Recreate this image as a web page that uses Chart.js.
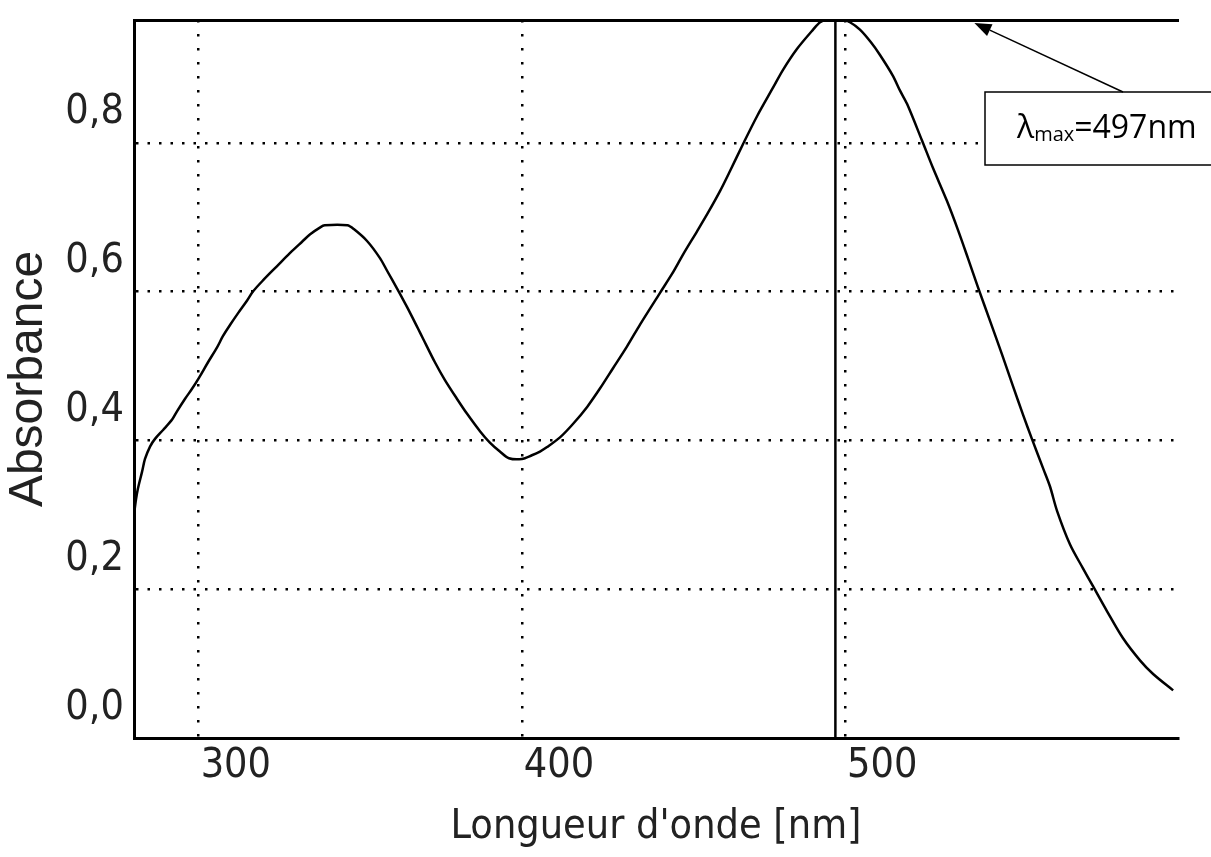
<!DOCTYPE html>
<html>
<head>
<meta charset="utf-8">
<title>Spectre d'absorption</title>
<script src="https://cdn.jsdelivr.net/npm/chart.js@4.4.1/dist/chart.umd.min.js"></script>
<style>
  html, body { margin: 0; padding: 0; background: #fff; }
  canvas { display: block; }
</style>
</head>
<body>
<canvas id="spectre" width="1211" height="857"></canvas>
<script>
// Absorption spectrum (wavelength in nm, absorbance)
const wavelengths = [
  280.0, 280.6, 281.2, 282.5, 283.4, 285.0, 286.5, 289.0, 291.8, 293.3,
  295.8, 297.9, 300.1, 302.9, 305.7, 307.5, 309.7, 312.2, 315.0, 316.8,
  319.9, 324.2, 328.3, 332.0, 334.5, 337.5, 339.0, 346.0, 348.0, 352.1,
  356.1, 358.3, 361.4, 364.5, 367.9, 369.4, 373.1, 376.2, 379.9, 383.0,
  387.1, 390.1, 393.2, 396.0, 400.0, 403.1, 405.6, 407.8, 411.8, 415.8,
  420.2, 424.2, 428.2, 432.5, 436.6, 442.7, 446.5, 449.9, 454.2, 457.6,
  461.3, 464.4, 468.4, 472.8, 477.7, 480.8, 485.1, 490.1, 492.3, 497.0,
  501.5, 504.6, 508.0, 510.8, 514.8, 517.0, 519.2, 523.8, 527.2, 531.5,
  535.0, 538.0, 541.1, 544.9, 548.6, 551.7, 555.1, 557.8, 561.3, 563.4,
  565.6, 569.6, 573.6, 576.7, 581.1, 586.0, 591.3, 595.3, 601.5
];
const absorbance = [
  0.300, 0.320, 0.335, 0.358, 0.375, 0.392, 0.402, 0.414, 0.428, 0.439,
  0.456, 0.469, 0.484, 0.505, 0.525, 0.540, 0.555, 0.571, 0.588, 0.600,
  0.615, 0.634, 0.652, 0.667, 0.677, 0.686, 0.689, 0.689, 0.684, 0.668,
  0.645, 0.628, 0.604, 0.579, 0.550, 0.537, 0.505, 0.481, 0.456, 0.436,
  0.412, 0.397, 0.385, 0.376, 0.375, 0.380, 0.385, 0.391, 0.404, 0.422,
  0.445, 0.470, 0.497, 0.526, 0.556, 0.598, 0.624, 0.650, 0.681, 0.706,
  0.735, 0.762, 0.798, 0.836, 0.874, 0.898, 0.926, 0.952, 0.962, 0.970,
  0.962, 0.952, 0.935, 0.918, 0.890, 0.870, 0.852, 0.803, 0.766, 0.722,
  0.682, 0.645, 0.606, 0.560, 0.515, 0.476, 0.434, 0.402, 0.362, 0.338,
  0.305, 0.260, 0.228, 0.204, 0.170, 0.134, 0.104, 0.086, 0.064
];
const lambdaMax = 497;

const xRange = [280, 603];
const yRange = [0, 0.965];
const xTicks = [300, 400, 500];
const yTicks = [0, 0.2, 0.4, 0.6, 0.8];

const spectrum = wavelengths.map((w, i) => ({ x: w, y: absorbance[i] }));
const maxLine = [{ x: lambdaMax, y: yRange[0] }, { x: lambdaMax, y: yRange[1] }];

const axisFont = "'Liberation Sans Narrow', 'DejaVu Sans Condensed', 'Liberation Sans', sans-serif";
const inkColor = '#222';

// Boxed label with an arrow pointing at the top of the peak
const calloutPlugin = {
  id: 'callout',
  afterDraw(chart, args, opts) {
    const { ctx } = chart;
    const tipX = chart.scales.x.getPixelForValue(opts.tip[0]);
    const tipY = chart.scales.y.getPixelForValue(opts.tip[1]) + 3;
    const b = opts.box;
    ctx.save();
    ctx.strokeStyle = '#000';
    ctx.fillStyle = '#fff';
    ctx.lineWidth = 1.5;
    ctx.fillRect(b.left, b.top, chart.width - b.left + 5, b.height);
    ctx.strokeRect(b.left, b.top, chart.width - b.left + 5, b.height);

    // arrow shaft and head
    const tailX = opts.tail, tailY = b.top;
    const ang = Math.atan2(tipY - tailY, tipX - tailX);
    const head = 17, half = 6.5;
    const bx = tipX - head * Math.cos(ang), by = tipY - head * Math.sin(ang);
    ctx.beginPath();
    ctx.moveTo(tailX, tailY);
    ctx.lineTo(bx, by);
    ctx.stroke();
    ctx.fillStyle = '#000';
    ctx.beginPath();
    ctx.moveTo(tipX, tipY);
    ctx.lineTo(bx + half * Math.sin(ang), by - half * Math.cos(ang));
    ctx.lineTo(bx - half * Math.sin(ang), by + half * Math.cos(ang));
    ctx.closePath();
    ctx.fill();

    // λ with "max" subscript
    const base = b.top + 46;
    let x = b.left + 32;
    ctx.textBaseline = 'alphabetic';
    ctx.textAlign = 'left';
    ctx.font = "32px 'Open Sans', sans-serif";
    ctx.fillText('λ', x, base);
    x += ctx.measureText('λ').width;
    ctx.font = "20px 'Open Sans', sans-serif";
    ctx.fillText('max', x, base + 3);
    x += ctx.measureText('max').width;
    ctx.font = "32px 'Open Sans', sans-serif";
    ctx.fillText('=' + lambdaMax + 'nm', x, base);
    ctx.restore();
  }
};

new Chart(document.getElementById('spectre').getContext('2d'), {
  type: 'line',
  data: {
    datasets: [
      {
        data: spectrum,
        borderColor: '#000',
        borderWidth: 2.5,
        pointRadius: 0,
        tension: 0.3,
        fill: false
      },
      {
        data: maxLine,
        borderColor: '#000',
        borderWidth: 2.5,
        pointRadius: 0,
        fill: false
      }
    ]
  },
  options: {
    responsive: false,
    animation: false,
    layout: { padding: { left: 0, top: 20, right: 33, bottom: 0 } },
    plugins: {
      legend: { display: false },
      tooltip: { enabled: false },
      callout: { tip: [540, yRange[1]], tail: 1123, box: { left: 985, top: 92, height: 73 } }
    },
    scales: {
      x: {
        type: 'linear',
        position: 'bottom',
        min: xRange[0],
        max: xRange[1],
        afterBuildTicks: (s) => { s.ticks = xTicks.map((v) => ({ value: v })); },
        afterFit: (s) => {
          s.height = 119;
          s.paddingLeft = 0;
          s.paddingRight = 0;
        },
        ticks: {
          align: 'start',
          labelOffset: 2,
          padding: 4,
          color: inkColor,
          font: { family: axisFont, size: 41 },
          callback: (v) => String(v)
        },
        grid: { color: '#000', lineWidth: 2.5, drawTicks: false },
        border: { display: true, color: '#000', width: 3, dash: [2.5, 11.5] },
        title: {
          display: true,
          text: "Longueur d'onde [nm]",
          color: inkColor,
          font: { family: axisFont, size: 41 },
          padding: { top: 0, bottom: 5 }
        }
      },
      x2: {
        type: 'linear',
        position: 'top',
        min: xRange[0],
        max: xRange[1],
        afterFit: (s) => { s.height = 0; },
        ticks: { display: false },
        grid: { drawOnChartArea: false, drawTicks: false },
        border: { display: true, color: '#000', width: 3 }
      },
      y: {
        type: 'linear',
        position: 'left',
        min: yRange[0],
        max: yRange[1],
        afterBuildTicks: (s) => { s.ticks = yTicks.map((v) => ({ value: v })); },
        afterFit: (s) => {
          s.width = 134;
          s.paddingTop = 0;
          s.paddingBottom = 0;
        },
        ticks: {
          padding: 10,
          labelOffset: -30,
          color: inkColor,
          font: { family: axisFont, size: 41 },
          callback: (v) => v.toFixed(1).replace('.', ',')
        },
        grid: { color: '#000', lineWidth: 2.5, drawTicks: false },
        border: { display: true, color: '#000', width: 3, dash: [2.5, 9] },
        title: {
          display: true,
          text: 'Absorbance',
          color: inkColor,
          font: { family: "'Liberation Sans', sans-serif", size: 48 },
          padding: { top: 0, bottom: 0 }
        }
      }
    }
  },
  plugins: [calloutPlugin]
});
</script>
</body>
</html>
